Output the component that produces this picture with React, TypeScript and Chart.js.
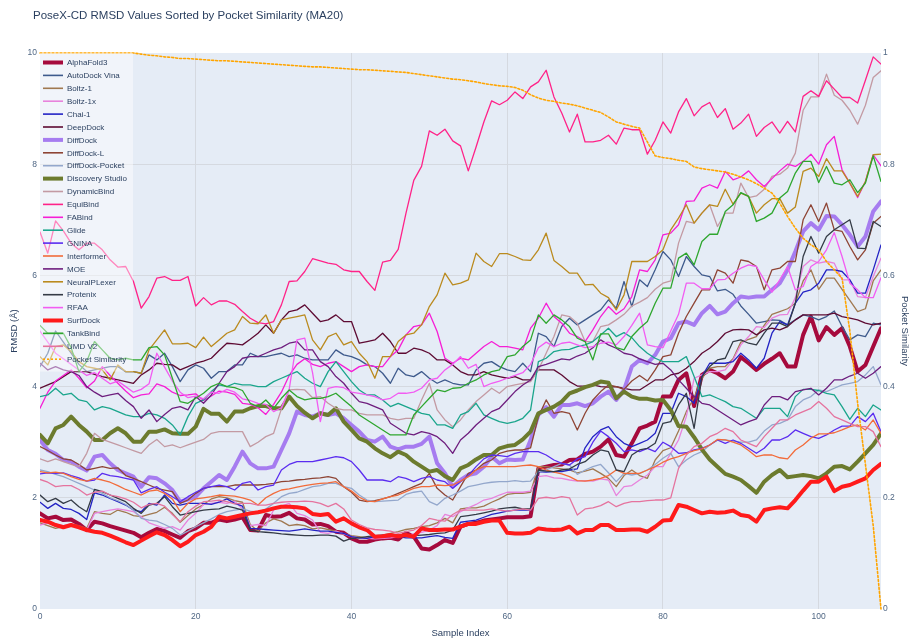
import React, { useEffect, useRef } from 'react';
import { Chart, registerables } from 'chart.js';

Chart.register(...registerables);

// ---------- data ----------
const sampleIndex = Array.from({ length: 109 }, (_, i) => i);
const xTicks = [0, 20, 40, 60, 80, 100];

const alphaFold3 = [
  1.72,1.63,1.66,1.60,1.61,1.53,1.42,1.57,1.54,1.49,
  1.45,1.41,1.37,1.29,1.37,1.44,1.40,1.34,1.28,1.40,
  1.45,1.55,1.55,1.61,1.58,1.61,1.65,1.42,1.41,1.69,
  1.66,1.67,1.73,1.63,1.61,1.52,1.53,1.49,1.39,1.37,
  1.27,1.21,1.21,1.25,1.27,1.28,1.25,1.37,1.30,1.09,
  1.07,1.15,1.24,1.19,1.48,1.53,1.55,1.59,1.61,1.63,
  1.65,1.65,1.65,1.67,2.53,2.56,2.59,2.60,2.68,2.69,
  2.79,2.83,2.92,3.05,2.77,2.74,2.98,3.25,3.30,3.37,
  3.82,3.82,4.12,4.24,3.65,4.21,4.30,4.24,4.15,4.27,
  4.53,4.42,4.30,4.41,4.50,4.60,4.36,4.36,4.93,5.26,
  4.83,5.07,4.93,5.05,4.72,4.27,4.39,4.72,5.05];

const autoDockVina = [
  4.36,4.60,5.00,4.80,4.60,4.40,4.27,4.30,4.33,4.36,
  4.36,4.27,4.27,4.24,4.57,4.48,4.60,4.36,4.09,4.30,
  4.39,4.33,4.15,4.27,4.27,4.39,4.39,4.60,4.54,4.54,
  4.57,4.60,4.54,4.57,4.51,4.48,4.48,4.48,4.66,4.57,
  4.54,4.48,4.39,4.36,4.24,4.06,4.33,4.21,4.18,4.27,
  4.15,4.06,4.12,4.06,4.03,4.03,4.30,4.42,4.45,4.36,
  4.30,4.27,4.42,4.27,4.96,4.90,4.72,5.08,5.23,5.11,
  5.20,5.29,5.38,5.56,5.41,5.89,5.44,5.92,5.80,6.10,
  6.43,6.28,5.98,6.34,6.16,6.01,5.98,5.72,5.75,5.66,
  5.45,5.30,5.14,5.17,5.20,5.19,5.11,5.20,5.29,5.26,
  5.20,5.26,5.36,5.08,4.84,4.93,4.90,5.14,5.11];

const boltz1 = [
  1.55,1.50,1.45,1.48,1.52,1.50,1.45,1.75,1.72,1.70,
  1.78,1.74,1.68,1.66,1.70,1.74,1.83,1.72,1.56,1.68,
  1.80,1.88,1.98,2.02,2.00,1.95,1.92,1.52,1.40,1.55,
  1.62,1.58,1.50,1.52,1.50,1.44,1.46,1.43,1.40,1.35,
  1.32,1.30,1.28,1.30,1.33,1.36,1.39,1.43,1.45,1.48,
  1.50,1.55,1.63,1.55,1.80,1.82,1.82,1.85,1.92,1.98,
  2.06,2.08,2.08,2.10,2.56,2.56,2.54,2.52,2.50,2.45,
  2.48,2.52,2.44,2.35,2.20,2.40,2.50,2.40,2.35,2.68,
  2.85,2.90,3.20,3.55,3.80,4.15,4.33,4.36,4.36,4.50,
  4.80,4.85,4.90,5.10,5.30,5.35,5.40,5.50,5.90,6.10,
  5.75,5.95,5.95,5.75,5.55,5.35,5.40,5.90,6.10];

const boltz1x = [
  1.51,1.55,1.52,1.50,1.53,1.48,1.42,1.72,1.75,1.78,
  1.80,1.78,1.75,1.66,1.55,1.50,1.45,1.48,1.42,1.60,
  1.72,1.88,1.90,1.92,1.90,1.94,1.80,1.50,1.52,1.50,
  1.78,1.85,1.90,1.72,1.68,1.60,1.38,1.36,1.40,1.35,
  1.30,1.28,1.27,1.26,1.27,1.28,1.30,1.32,1.35,1.38,
  1.42,1.50,1.70,1.66,1.75,1.82,1.88,1.96,1.99,2.05,
  2.10,2.10,2.10,2.12,2.38,2.40,2.36,2.35,2.32,2.30,
  2.31,2.30,2.34,2.32,2.04,2.20,2.22,2.32,2.41,2.56,
  2.56,2.80,3.04,3.46,4.15,4.21,4.27,4.27,4.30,4.48,
  4.75,4.90,5.08,5.06,5.23,5.29,5.30,5.60,6.16,6.28,
  6.22,6.25,6.22,5.92,5.92,5.62,5.60,5.98,6.31];

const chai1 = [
  1.92,1.81,1.90,1.81,1.79,1.72,1.61,2.09,2.05,1.99,
  1.93,1.87,1.78,1.75,1.90,1.87,2.05,1.90,1.87,1.90,
  1.90,1.90,1.88,1.92,1.98,1.90,1.85,1.45,1.44,1.43,
  1.42,1.41,1.40,1.42,1.44,1.42,1.40,1.40,1.38,1.36,
  1.30,1.28,1.27,1.30,1.30,1.32,1.30,1.28,1.28,1.28,
  1.30,1.32,1.29,1.27,1.56,1.58,1.60,1.65,1.70,1.73,
  1.76,1.78,1.78,1.78,2.47,2.46,2.47,2.47,2.50,2.52,
  2.90,3.10,3.22,3.28,3.10,2.98,2.92,2.98,3.04,3.16,
  3.52,3.52,3.88,3.82,3.70,4.18,4.42,4.42,4.42,4.45,
  4.60,4.48,4.33,4.51,4.96,5.17,5.11,5.50,5.70,5.74,
  5.86,6.10,6.10,6.07,5.92,5.68,5.68,6.10,6.55];

const deepDock = [
  3.97,4.03,4.09,4.18,4.27,4.27,4.27,4.22,4.18,4.15,
  4.12,4.09,4.06,4.21,4.30,4.42,4.40,4.39,4.30,4.36,
  4.42,4.46,4.51,4.65,4.78,4.77,4.75,4.85,4.96,5.11,
  4.96,5.20,5.35,5.38,5.47,5.32,5.17,5.20,5.29,5.17,
  5.17,4.78,4.81,4.84,4.96,4.81,4.60,4.60,4.69,4.66,
  4.60,4.48,4.48,4.39,4.27,4.21,4.21,4.27,4.21,4.18,
  4.15,4.18,4.12,4.12,4.30,4.30,4.30,4.21,4.09,4.01,
  4.01,4.03,4.00,3.99,4.00,3.97,3.94,3.94,4.03,4.12,
  4.12,4.21,4.24,4.33,4.45,4.60,4.69,4.81,4.96,5.02,
  5.03,5.02,4.93,5.02,5.05,5.02,5.08,5.20,5.29,5.29,
  5.29,5.29,5.32,5.26,5.23,5.20,5.14,5.11,5.14];

const diffDock = [
  3.04,2.86,2.79,2.68,2.65,2.56,2.49,2.74,2.77,2.62,
  2.50,2.44,2.38,2.20,2.37,2.35,2.26,2.14,1.93,1.97,
  2.02,2.17,2.29,2.41,2.32,2.56,2.83,2.62,2.53,2.53,
  2.56,2.86,3.16,3.55,3.49,3.46,3.52,3.49,3.52,3.43,
  3.31,3.19,3.04,3.01,3.10,2.92,2.87,2.92,2.92,2.97,
  3.10,2.62,2.44,2.20,2.32,2.41,2.44,2.56,2.74,2.62,
  2.69,2.68,2.69,3.04,3.49,3.63,3.46,3.67,3.67,3.70,
  3.65,3.70,3.82,3.91,3.76,3.94,4.36,4.48,4.42,4.57,
  4.81,4.87,5.14,5.17,5.11,5.32,5.45,5.30,5.35,5.50,
  5.62,5.60,5.62,5.62,5.74,5.86,6.10,6.43,6.79,6.94,
  6.82,7.07,7.06,6.91,6.73,6.52,6.70,7.15,7.33];

const diffDockL = [
  2.92,2.85,2.77,2.70,2.68,2.60,2.50,2.53,2.56,2.53,
  2.54,2.40,2.35,2.29,2.23,2.17,2.14,2.11,1.90,1.96,
  2.08,2.17,2.20,2.20,2.20,2.23,2.23,2.23,2.23,2.24,
  2.26,2.29,2.30,2.32,2.33,2.35,2.36,2.38,2.35,2.20,
  2.10,1.96,1.93,1.95,1.98,2.02,2.08,2.14,2.20,2.26,
  2.44,2.17,2.05,1.96,2.20,2.44,2.50,2.62,2.68,2.80,
  2.84,2.86,2.86,2.90,3.46,3.76,3.52,3.55,3.52,3.22,
  3.52,3.76,3.91,4.03,4.00,3.95,4.10,4.20,4.10,4.30,
  4.54,4.57,4.96,5.26,5.50,5.74,5.74,6.10,6.04,5.86,
  6.28,6.25,6.16,5.74,6.10,6.13,6.25,6.25,7.00,7.27,
  6.97,7.30,6.82,6.79,6.52,6.28,6.46,6.94,7.06];

const diffDockPocket = [
  2.50,2.47,2.42,2.38,2.32,2.26,2.20,2.14,2.08,2.00,
  1.95,1.88,1.78,1.63,1.60,1.58,1.52,1.45,1.33,1.40,
  1.48,1.55,1.62,1.70,1.75,1.78,1.80,1.76,1.74,1.80,
  1.90,2.02,2.08,2.10,2.15,2.20,2.22,2.26,2.26,2.20,
  2.17,2.05,1.96,1.93,1.94,1.95,1.96,2.06,2.10,2.12,
  1.93,1.87,1.99,2.05,2.12,2.20,2.23,2.26,2.28,2.29,
  2.29,2.31,2.29,2.30,2.47,2.50,2.56,2.62,2.59,2.42,
  2.50,2.56,2.60,2.45,2.29,2.44,2.41,2.44,2.50,2.60,
  2.71,2.80,2.56,2.68,2.77,2.83,2.95,3.04,3.04,3.02,
  3.00,3.00,3.04,3.20,3.31,3.34,3.40,3.64,3.76,3.82,
  3.94,3.91,3.97,4.03,4.06,4.09,4.21,4.36,4.03];

const discoveryStudio = [
  3.13,2.98,3.25,3.31,3.46,3.31,3.19,3.04,3.04,3.16,
  3.25,3.16,3.01,3.01,3.19,3.19,3.23,3.16,3.15,3.15,
  3.28,3.60,3.51,3.51,3.37,3.55,3.55,3.61,3.65,3.65,
  3.61,3.61,3.82,3.65,3.53,3.43,3.52,3.49,3.61,3.37,
  3.22,3.07,3.01,2.89,2.80,2.73,2.83,2.77,2.65,2.56,
  2.47,2.50,2.39,2.32,2.53,2.59,2.69,2.77,2.77,2.89,
  2.93,2.95,3.05,3.19,3.52,3.58,3.64,3.73,3.88,3.93,
  3.99,4.03,4.09,4.07,3.79,3.91,3.82,3.78,3.78,3.75,
  3.76,3.58,3.29,3.28,3.09,2.87,2.69,2.56,2.43,2.38,
  2.32,2.21,2.09,2.29,2.41,2.50,2.37,2.39,2.41,2.39,
  2.35,2.44,2.56,2.57,2.51,2.65,2.80,2.95,3.16];

const dynamicBind = [
  2.70,2.65,2.70,2.65,2.60,2.56,2.80,3.16,3.05,3.00,
  2.95,2.90,2.85,2.80,2.95,3.05,2.92,2.95,2.90,2.95,
  3.00,3.05,3.16,3.19,3.19,3.19,3.19,2.92,3.00,3.10,
  3.16,3.60,3.94,3.95,3.94,3.80,3.82,3.70,3.61,3.58,
  3.58,3.52,3.49,3.49,3.49,3.43,3.40,3.43,3.43,3.76,
  4.06,3.58,3.40,3.28,3.40,3.58,3.73,3.85,3.97,3.88,
  4.00,4.03,4.06,4.09,4.30,4.60,4.90,5.29,5.26,5.14,
  4.81,4.81,5.08,5.11,5.20,5.30,5.45,5.52,5.60,5.75,
  5.86,5.90,6.58,6.97,6.94,7.12,7.27,6.88,7.12,7.12,
  7.66,7.40,7.43,7.55,7.78,7.82,7.93,8.20,8.97,9.21,
  9.21,9.62,9.24,9.15,8.97,8.72,9.06,9.56,9.68];

const equiBind = [
  6.78,6.40,6.98,6.80,6.58,6.46,6.58,6.58,6.46,6.28,
  6.15,6.16,5.89,5.41,5.62,5.95,5.98,5.91,5.91,5.98,
  5.45,5.60,5.47,5.54,5.54,5.48,5.35,5.23,5.15,5.13,
  5.17,5.47,5.89,5.90,6.07,6.30,6.26,6.22,6.20,6.10,
  6.07,6.07,5.89,5.73,6.24,6.27,6.47,7.12,7.71,7.96,
  8.60,8.52,8.63,8.42,8.33,7.88,8.31,8.76,9.14,9.07,
  9.15,9.30,9.18,9.39,9.48,9.69,9.21,8.92,8.58,8.90,
  8.40,8.40,8.43,8.52,8.36,8.65,8.62,8.62,8.18,8.43,
  8.76,8.56,8.94,9.18,8.87,9.03,9.11,8.84,9.00,8.63,
  8.74,8.90,8.50,8.66,8.76,8.56,8.77,8.58,9.22,9.32,
  9.22,9.50,9.35,9.20,9.20,9.10,9.51,9.93,9.80];

const faBind = [
  3.61,3.90,4.10,4.20,4.30,4.15,3.98,4.10,4.36,4.20,
  4.06,3.92,3.80,3.85,3.87,4.05,4.00,3.90,3.84,3.85,
  3.87,3.75,3.83,3.92,3.90,3.86,3.70,3.68,3.62,3.50,
  3.68,3.90,4.20,4.40,4.50,4.40,4.36,4.42,4.45,4.36,
  4.27,4.36,4.39,4.36,4.36,4.54,4.66,4.93,5.08,5.11,
  5.32,4.99,4.51,4.42,4.51,4.48,4.60,4.72,4.81,4.72,
  4.72,4.69,4.66,5.05,5.23,5.50,5.26,5.14,4.96,4.90,
  4.81,5.02,5.26,5.44,5.30,5.40,5.62,6.10,6.07,6.28,
  6.73,6.76,6.91,7.33,7.34,7.57,7.63,7.57,7.87,7.72,
  7.77,7.88,7.72,7.60,7.74,7.88,8.00,7.96,8.05,8.18,
  8.00,8.35,8.50,7.90,7.66,7.40,7.69,8.17,7.97];

const glide = [
  3.82,3.85,3.97,3.85,3.88,3.76,3.73,3.58,3.64,3.61,
  3.55,3.49,3.46,3.46,3.52,3.49,3.43,3.31,3.13,3.46,
  3.70,3.76,3.91,4.03,4.00,4.06,4.03,4.03,4.00,4.00,
  4.09,4.15,4.21,4.27,4.15,4.06,4.00,4.27,4.45,4.27,
  4.09,3.94,3.85,3.85,3.76,3.64,3.70,3.64,3.58,3.52,
  3.49,3.31,3.31,3.25,3.49,3.55,3.70,3.49,3.43,3.37,
  3.34,3.37,3.43,3.58,4.45,4.51,4.63,4.66,4.67,4.72,
  4.75,4.81,4.93,5.05,4.90,4.97,4.88,4.72,4.60,4.51,
  4.45,4.45,4.45,4.54,4.18,3.82,3.85,3.79,3.73,3.64,
  3.61,3.52,3.43,3.61,3.61,3.61,3.46,3.82,3.95,3.95,
  3.93,3.88,3.85,3.64,3.41,3.61,3.46,3.67,3.58];

const gnina = [
  2.43,2.45,2.44,2.45,2.40,2.36,2.30,2.32,2.44,2.40,
  2.38,2.35,2.32,2.09,2.15,2.20,2.10,2.02,1.93,2.02,
  2.10,2.17,2.20,2.23,2.20,2.14,2.26,2.29,2.14,2.20,
  2.23,2.50,2.60,2.65,2.65,2.65,2.68,2.71,2.74,2.72,
  2.65,2.50,2.32,2.32,2.32,2.29,2.38,2.35,2.29,2.35,
  2.38,2.32,2.29,2.17,2.29,2.40,2.56,2.70,2.77,2.76,
  2.74,2.80,2.83,2.83,2.83,2.77,2.68,2.62,2.59,2.70,
  2.74,3.00,3.20,3.10,2.98,2.83,2.86,2.83,2.89,2.83,
  3.00,2.92,2.80,2.81,2.86,2.89,2.95,3.04,2.98,3.04,
  2.98,2.89,2.80,2.89,3.04,3.04,3.10,3.22,3.16,3.10,
  3.07,3.13,3.22,3.29,3.29,3.46,3.37,3.52,3.19];

const interformer = [
  2.47,2.45,2.46,2.44,2.38,2.33,2.30,2.35,2.32,2.28,
  2.22,2.15,2.10,2.05,2.12,2.14,2.08,1.98,1.75,1.90,
  1.98,2.00,2.02,2.05,2.04,2.03,2.00,1.96,1.87,2.00,
  2.08,2.14,2.16,2.19,2.22,2.24,2.26,2.27,2.29,2.20,
  2.12,2.01,1.94,1.93,1.98,2.02,2.05,2.11,2.17,2.20,
  2.20,2.23,2.22,2.23,2.30,2.38,2.50,2.56,2.56,2.56,
  2.56,2.56,2.58,2.59,2.56,2.50,2.46,2.43,2.38,2.31,
  2.30,2.32,2.35,2.40,2.50,2.44,2.44,2.44,2.50,2.56,
  2.64,2.70,2.74,2.80,2.85,2.88,2.95,3.05,3.04,3.00,
  2.95,2.85,2.74,2.77,2.77,2.72,2.70,2.86,2.95,3.07,
  3.15,3.15,3.17,3.22,3.28,3.31,3.22,3.40,3.16];

const moe = [
  4.42,4.30,4.36,4.30,4.27,4.20,4.00,3.90,3.82,3.85,
  3.88,3.75,3.64,3.43,3.58,3.37,3.50,3.61,3.64,3.58,
  3.82,3.70,3.85,4.06,4.27,4.36,4.51,4.54,4.54,4.60,
  4.66,4.70,4.78,4.81,4.66,4.66,4.45,4.36,4.18,4.06,
  3.88,3.73,3.70,3.64,3.58,3.34,3.25,3.16,3.13,3.19,
  3.16,3.10,2.98,2.80,3.04,3.16,3.31,3.43,3.55,3.61,
  3.76,3.91,4.03,4.12,4.36,4.40,4.45,4.50,4.48,4.55,
  4.60,4.70,4.84,4.75,4.69,4.60,4.57,4.50,4.45,4.40,
  4.42,4.30,4.12,3.97,3.82,3.70,3.67,3.58,3.49,3.40,
  3.31,3.37,3.42,3.67,3.82,3.82,3.76,3.91,3.94,3.97,
  3.85,3.97,4.12,4.12,4.19,4.24,4.15,4.24,4.36];

const neuralPLexer = [
  4.54,4.39,4.72,4.75,4.63,4.45,4.36,4.33,4.30,4.12,
  4.39,4.27,4.27,4.24,4.66,4.84,5.02,4.77,4.77,4.78,
  4.70,4.89,4.72,4.84,4.96,5.02,5.26,5.14,5.13,5.29,
  4.96,5.20,5.23,5.26,5.29,4.84,4.66,4.90,4.96,4.75,
  4.81,4.60,4.45,4.15,4.54,4.54,4.81,4.93,4.96,5.11,
  5.44,5.65,6.04,5.83,5.86,5.92,6.40,6.25,6.16,6.39,
  6.39,6.34,6.28,6.27,6.46,6.76,6.27,6.16,6.04,6.04,
  5.83,5.84,5.68,5.60,5.38,5.65,6.25,6.25,6.25,6.34,
  6.46,6.82,7.03,7.27,6.94,7.12,7.27,7.24,7.55,7.28,
  7.48,7.42,7.12,7.27,7.38,7.38,7.12,7.23,7.87,7.93,
  7.78,8.10,7.88,7.88,7.66,7.42,7.69,8.17,8.18];

const protenix = [
  2.05,1.93,1.99,1.90,1.96,1.84,1.75,2.15,2.11,2.05,
  1.99,1.93,1.81,1.72,1.87,1.90,2.02,1.84,1.69,1.72,
  1.75,1.78,1.79,1.80,1.85,1.82,1.78,1.42,1.39,1.38,
  1.37,1.35,1.34,1.33,1.32,1.32,1.33,1.33,1.31,1.22,
  1.27,1.28,1.30,1.32,1.33,1.34,1.33,1.33,1.32,1.33,
  1.34,1.36,1.37,1.42,1.66,1.68,1.70,1.73,1.76,1.80,
  1.82,1.83,1.80,1.80,2.50,2.48,2.47,2.50,2.52,2.60,
  2.65,2.77,2.86,2.83,2.50,2.47,2.77,2.86,2.89,2.98,
  3.34,3.37,3.67,3.88,3.25,4.18,4.36,4.48,4.51,4.81,
  4.84,4.78,4.75,4.96,5.14,5.14,5.08,5.50,6.34,6.70,
  6.40,6.70,6.82,6.91,7.00,6.49,6.48,6.97,6.88];

const rfaa = [
  5.00,4.80,4.60,4.50,4.40,4.30,4.20,4.25,4.15,4.05,
  4.10,4.00,3.90,3.95,4.05,4.60,4.35,4.10,3.90,3.80,
  3.83,3.78,3.90,3.88,3.95,3.90,3.78,3.75,3.70,3.68,
  3.55,3.62,3.95,4.84,4.87,4.25,3.37,3.97,4.00,3.98,
  3.90,3.88,3.85,3.82,3.76,3.79,3.88,3.88,3.90,3.97,
  4.12,4.15,4.30,4.40,4.54,4.33,4.40,4.00,4.06,4.10,
  4.15,4.20,4.25,4.40,4.70,4.80,4.72,4.78,4.80,4.75,
  4.70,4.72,4.78,4.80,4.75,4.90,5.10,5.32,4.75,4.72,
  4.70,5.00,5.30,5.86,5.86,5.76,5.76,5.92,5.93,6.04,
  6.13,6.19,6.16,5.92,5.70,5.92,6.16,5.74,5.80,6.16,
  6.25,6.46,6.77,6.34,5.86,5.74,5.60,5.60,5.96];

const surfDock = [
  1.60,1.57,1.51,1.47,1.51,1.47,1.42,1.39,1.37,1.32,
  1.26,1.20,1.15,1.23,1.31,1.38,1.33,1.24,1.13,1.21,
  1.33,1.39,1.48,1.66,1.63,1.66,1.69,1.72,1.74,1.77,
  1.81,1.84,1.84,1.83,1.81,1.71,1.69,1.71,1.57,1.63,
  1.54,1.47,1.42,1.30,1.31,1.33,1.31,1.33,1.30,1.45,
  1.42,1.42,1.43,1.43,1.48,1.53,1.53,1.57,1.59,1.59,
  1.37,1.36,1.36,1.37,1.45,1.43,1.42,1.43,1.48,1.36,
  1.42,1.42,1.51,1.51,1.42,1.42,1.43,1.43,1.39,1.48,
  1.59,1.60,1.87,1.84,1.78,1.72,1.75,1.73,1.74,1.77,
  1.69,1.67,1.57,1.78,1.81,1.83,1.81,1.96,2.13,2.29,
  2.29,2.38,2.12,2.20,2.23,2.29,2.35,2.50,2.61];

const tankBind = [
  5.10,4.96,4.96,4.96,4.70,4.27,4.45,4.81,4.66,4.51,
  4.48,4.51,4.48,4.48,4.70,4.72,4.57,4.15,3.73,3.70,
  3.79,3.88,4.00,4.06,4.00,3.98,3.93,3.70,3.64,3.76,
  3.61,3.79,3.94,3.82,3.76,3.79,3.79,3.82,3.88,3.76,
  3.64,3.49,3.40,3.31,3.22,3.13,3.13,3.13,3.49,3.64,
  3.79,3.94,3.91,3.97,3.98,4.06,4.12,4.21,4.27,4.30,
  4.54,4.57,4.72,4.84,5.29,5.14,5.29,5.20,5.08,4.87,
  4.81,4.48,4.95,4.95,4.70,4.66,4.90,5.05,5.17,5.50,
  5.77,5.77,6.31,6.40,6.19,6.61,6.74,6.74,7.15,7.27,
  7.49,7.42,6.97,7.03,7.12,7.39,7.51,7.84,8.05,8.05,
  7.67,7.96,7.66,7.63,7.72,7.49,7.66,8.15,7.69];

const umdV2 = [
  2.33,2.28,2.20,2.22,2.22,2.15,2.05,2.10,2.12,2.05,
  2.02,1.98,1.92,1.82,1.88,1.90,1.85,1.70,1.57,1.75,
  1.85,1.93,1.94,1.96,1.93,1.89,1.90,1.90,1.87,1.87,
  1.90,1.92,1.93,1.93,1.94,1.93,1.90,1.84,1.90,1.80,
  1.60,1.52,1.46,1.43,1.42,1.40,1.36,1.39,1.42,1.50,
  1.63,1.60,1.58,1.70,1.78,1.78,1.78,1.78,1.80,1.78,
  1.76,1.78,1.80,1.78,1.99,2.01,1.99,2.02,2.00,1.69,
  1.80,1.82,1.86,1.93,1.84,1.90,1.93,1.93,1.95,1.96,
  1.96,2.00,2.53,2.77,2.92,2.98,3.10,3.16,3.25,3.19,
  3.04,2.98,2.92,3.10,3.25,3.40,3.40,3.49,3.55,3.61,
  3.73,3.61,3.46,3.40,3.34,3.28,3.28,3.19,2.92];

const pocketSimilarity = [
  1,1,1,1,1,1,1,1,1,1,
  1,1,1,0.998,0.996,0.995,0.993,0.992,0.99,0.99,
  0.989,0.988,0.987,0.986,0.986,0.985,0.984,0.983,0.982,0.981,
  0.98,0.979,0.978,0.977,0.976,0.975,0.975,0.974,0.973,0.972,
  0.971,0.97,0.97,0.969,0.968,0.967,0.966,0.965,0.963,0.961,
  0.959,0.957,0.955,0.953,0.952,0.95,0.948,0.945,0.943,0.941,
  0.94,0.938,0.933,0.925,0.919,0.915,0.913,0.91,0.908,0.905,
  0.901,0.897,0.893,0.885,0.876,0.872,0.868,0.865,0.84,0.815,
  0.812,0.81,0.807,0.805,0.795,0.792,0.79,0.788,0.786,0.782,
  0.777,0.772,0.765,0.757,0.748,0.73,0.706,0.685,0.667,0.655,
  0.646,0.625,0.61,0.595,0.5,0.37,0.26,0.15,0];

const methodNames = [
  'AlphaFold3', 'AutoDock Vina', 'Boltz-1', 'Boltz-1x', 'Chai-1', 'DeepDock',
  'DiffDock', 'DiffDock-L', 'DiffDock-Pocket', 'Discovery Studio', 'DynamicBind',
  'EquiBind', 'FABind', 'Glide', 'GNINA', 'Interformer', 'MOE', 'NeuralPLexer',
  'Protenix', 'RFAA', 'SurfDock', 'TankBind', 'UMD V2',
];
const methodValues = [
  alphaFold3, autoDockVina, boltz1, boltz1x, chai1, deepDock,
  diffDock, diffDockL, diffDockPocket, discoveryStudio, dynamicBind,
  equiBind, faBind, glide, gnina, interformer, moe, neuralPLexer,
  protenix, rfaa, surfDock, tankBind, umdV2,
];

// ---------- styles ----------
const methodColors: Record<string, string> = {
  'AlphaFold3': '#A60A3D',
  'AutoDock Vina': '#3E5A8C',
  'Boltz-1': '#A07850',
  'Boltz-1x': '#E882DC',
  'Chai-1': '#2323C4',
  'DeepDock': '#5E0B33',
  'DiffDock': '#A67CF0',
  'DiffDock-L': '#8E4434',
  'DiffDock-Pocket': '#93A7CC',
  'Discovery Studio': '#6C7B2E',
  'DynamicBind': '#C39AA3',
  'EquiBind': '#FF2288',
  'FABind': '#F61ED6',
  'Glide': '#1AA58C',
  'GNINA': '#5A2CF0',
  'Interformer': '#F26B3A',
  'MOE': '#6E1E7E',
  'NeuralPLexer': '#BA8A1E',
  'Protenix': '#343B46',
  'RFAA': '#F25CF2',
  'SurfDock': '#FF1A1A',
  'TankBind': '#2EA62E',
  'UMD V2': '#E5739E',
};
const thickMethods = ['AlphaFold3', 'DiffDock', 'Discovery Studio', 'SurfDock'];
const POCKET_COLOR = '#FFA500';
const FONT = '"Liberation Sans", Arial, Helvetica, sans-serif';
const TITLE_COLOR = '#2a3f5f';
const TICK_COLOR = '#506784';
const GRID_COLOR = '#D5D9E0';
const PLOT_BG = '#E5ECF6';

const bgPlugin = {
  id: 'plotBg',
  beforeDraw(chart: any) {
    const { ctx, chartArea: a, width, height } = chart;
    ctx.save();
    ctx.fillStyle = '#ffffff';
    ctx.fillRect(0, 0, width, height);
    ctx.fillStyle = PLOT_BG;
    ctx.fillRect(a.left, a.top, a.right - a.left, a.bottom - a.top);
    ctx.restore();
  },
};

const legendPlugin = {
  id: 'insideLegend',
  afterDatasetsDraw(chart: any) {
    const { ctx, chartArea: a } = chart;
    const n = chart.data.datasets.length;
    const rowH = 12.9;
    ctx.save();
    ctx.fillStyle = 'rgba(255,255,255,0.45)';
    ctx.fillRect(a.left, a.top, 93, 9 + n * rowH);
    ctx.font = `8px ${FONT}`;
    ctx.textBaseline = 'middle';
    ctx.textAlign = 'left';
    chart.data.datasets.forEach((ds: any, i: number) => {
      const y = a.top + 9.5 + i * rowH;
      ctx.strokeStyle = ds.borderColor;
      ctx.lineWidth = ds.legendWidth;
      ctx.setLineDash(ds.borderDash || []);
      ctx.beginPath();
      ctx.moveTo(a.left + 3, y);
      ctx.lineTo(a.left + 23, y);
      ctx.stroke();
      ctx.setLineDash([]);
      ctx.fillStyle = TITLE_COLOR;
      ctx.fillText(ds.label, a.left + 27, y + 0.5);
    });
    ctx.restore();
  },
};

const textPlugin = {
  id: 'texts',
  afterDraw(chart: any) {
    const { ctx, chartArea: a } = chart;
    ctx.save();
    ctx.fillStyle = TITLE_COLOR;
    ctx.font = `11.5px ${FONT}`;
    ctx.textAlign = 'left';
    ctx.textBaseline = 'alphabetic';
    ctx.fillText('PoseX-CD RMSD Values Sorted by Pocket Similarity (MA20)', 33, 19);

    ctx.font = `9.5px ${FONT}`;
    ctx.textAlign = 'center';
    ctx.textBaseline = 'middle';
    ctx.fillText('Sample Index', (a.left + a.right) / 2, 633);

    const midY = (a.top + a.bottom) / 2;
    ctx.save();
    ctx.translate(14, midY);
    ctx.rotate(-Math.PI / 2);
    ctx.fillText('RMSD (Å)', 0, 0);
    ctx.restore();

    ctx.save();
    ctx.translate(905, midY);
    ctx.rotate(Math.PI / 2);
    ctx.fillText('Pocket Similarity', 0, 0);
    ctx.restore();
    ctx.restore();
  },
};

export default function App() {
  const canvasRef = useRef<HTMLCanvasElement>(null);

  useEffect(() => {
    const N = methodNames.length + 1;
    const datasets: any[] = methodNames.map((name, i) => {
      const thick = thickMethods.includes(name);
      return {
        label: name,
        data: methodValues[i],
        borderColor: methodColors[name],
        backgroundColor: methodColors[name],
        borderWidth: thick ? 4 : 1.3,
        legendWidth: thick ? 4 : 1.6,
        pointRadius: 0,
        fill: false,
        yAxisID: 'y',
        order: N - i,
      };
    });
    datasets.push({
      label: 'Pocket Similarity',
      data: pocketSimilarity,
      borderColor: POCKET_COLOR,
      backgroundColor: POCKET_COLOR,
      borderWidth: 1.6,
      legendWidth: 1.6,
      borderDash: [2, 2],
      pointRadius: 0,
      fill: false,
      yAxisID: 'y2',
      clip: false,
      order: 0,
    });

    const tickFont = { family: FONT, size: 8.5 };
    const transparent = 'rgba(0,0,0,0)';

    const chart = new Chart(canvasRef.current as HTMLCanvasElement, {
      type: 'line',
      data: { labels: sampleIndex, datasets },
      options: {
        responsive: false,
        animation: false,
        events: [],
        layout: { padding: { top: 53, left: 0, right: 0, bottom: 0 } },
        elements: {
          point: { radius: 0 },
          line: { tension: 0, borderJoinStyle: 'round', borderCapStyle: 'round' },
        },
        plugins: {
          legend: { display: false },
          tooltip: { enabled: false },
          title: { display: false },
        },
        scales: {
          x: {
            type: 'linear',
            min: 0,
            max: 108,
            afterFit: (s: any) => { s.height = 30; },
            afterBuildTicks: (s: any) => { s.ticks = xTicks.map((v) => ({ value: v })); },
            ticks: {
              padding: 3,
              color: TICK_COLOR,
              font: tickFont,
              maxRotation: 0,
              autoSkip: false,
              includeBounds: false,
            },
            grid: {
              color: (c: any) => (c.tick && c.tick.value === 0 ? transparent : GRID_COLOR),
              drawTicks: false,
              lineWidth: 1,
            },
            border: { display: false },
          },
          y: {
            type: 'linear',
            position: 'left',
            min: 0,
            max: 10,
            afterFit: (s: any) => { s.width = 40; },
            ticks: { stepSize: 2, padding: 3, color: TICK_COLOR, font: tickFont },
            grid: {
              color: (c: any) =>
                c.tick && (c.tick.value === 0 || c.tick.value === 10) ? transparent : GRID_COLOR,
              drawTicks: false,
              lineWidth: 1,
            },
            border: { display: false },
          },
          y2: {
            type: 'linear',
            position: 'right',
            min: 0,
            max: 1,
            afterFit: (s: any) => { s.width = 31; },
            ticks: {
              stepSize: 0.2,
              padding: 2,
              color: TICK_COLOR,
              font: tickFont,
              callback: (v: any) => String(Math.round(Number(v) * 10) / 10),
            },
            grid: { display: false, drawTicks: false },
            border: { display: false },
          },
        },
      } as any,
      plugins: [bgPlugin, legendPlugin, textPlugin],
    });

    return () => chart.destroy();
  }, []);

  return (
    <div style={{ position: 'fixed', left: 0, top: 0, width: 912, height: 639, background: '#fff' }}>
      <canvas ref={canvasRef} width={912} height={639} style={{ width: 912, height: 639, display: 'block' }} />
    </div>
  );
}
